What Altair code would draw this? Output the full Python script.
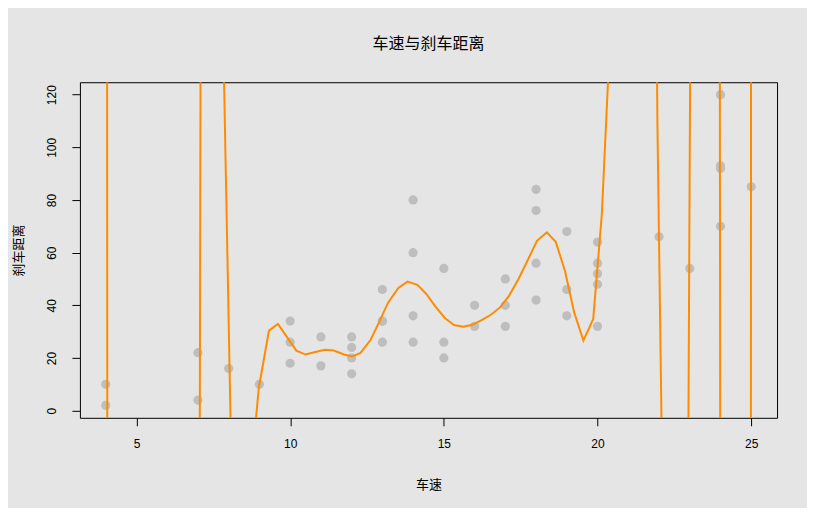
import altair as alt
import pandas as pd

# cars data (speed vs. stopping distance)
speed = [4, 4, 7, 7, 8, 9, 10, 10, 10, 11, 11, 12, 12, 12, 12, 13, 13, 13, 13, 14,
         14, 14, 14, 15, 15, 15, 16, 16, 17, 17, 17, 18, 18, 18, 18, 19, 19, 19, 20, 20,
         20, 20, 20, 22, 23, 24, 24, 24, 24, 25]
dist = [2, 10, 4, 22, 16, 10, 18, 26, 34, 17, 28, 14, 20, 24, 28, 26, 34, 34, 46, 26,
        36, 60, 80, 20, 26, 54, 32, 40, 32, 40, 50, 42, 56, 76, 84, 36, 46, 68, 32, 48,
        52, 56, 64, 66, 54, 70, 92, 93, 120, 85]

# fitted curve (values far outside the plot are clipped)
curve_speed = [3.86, 4.16, 4.46, 4.76, 5.07, 5.37, 5.67, 5.97, 6.27, 6.57,
               6.87, 7.17, 7.47, 7.77, 8.08, 8.38, 8.68, 8.98, 9.31, 9.60,
               9.90, 10.20, 10.50, 10.82, 11.13, 11.42, 11.75, 12.02, 12.29, 12.62,
               12.89, 13.19, 13.52, 13.82, 14.14, 14.43, 14.71, 15.03, 15.33, 15.63,
               15.93, 16.23, 16.53, 16.83, 17.12, 17.43, 17.72, 18.03, 18.35, 18.64,
               18.94, 19.24, 19.54, 19.86, 20.14, 20.44, 20.74, 21.04, 21.34, 21.65,
               21.95, 22.25, 22.55, 22.85, 23.15, 23.45, 23.75, 24.05, 24.35, 24.66,
               24.96, 25.26]
curve_dist = [5066, -2934, -5000, -6000, -6000, -5000, -4000, -3000, -2000, -1200,
              -1061, 601, 500, 173.6, -15, -45, -29, 8.6, 30.4, 32.9,
              27.9, 22.8, 21.3, 22.3, 23.1, 22.8, 21.3, 20.6, 21.9, 26.9,
              33.5, 41.1, 46.6, 49.0, 47.8, 44.3, 39.8, 35.2, 32.5, 31.9,
              32.6, 34.4, 36.4, 39.2, 43.6, 50.0, 56.9, 64.5, 67.7, 64.1,
              53.1, 37.3, 26.6, 34.8, 74.6, 149.6, 350, 600, 650, 500,
              107.7, -147, -500, -257, 449, 1500, 3055, -767, -3000, -2000,
              -903, 8225]

pts = pd.DataFrame({"speed": speed, "dist": dist})
crv = pd.DataFrame({"speed": curve_speed, "dist": curve_dist})

xscale = alt.Scale(domain=[3.16, 25.84], nice=False, zero=False)
yscale = alt.Scale(domain=[-2.72, 124.72], nice=False, zero=False)

xaxis = alt.Axis(values=[5, 10, 15, 20, 25], title="车速", labelPadding=13,
                 titleY=67, titleBaseline="middle")
yaxis = alt.Axis(values=[0, 20, 40, 60, 80, 100, 120], title="刹车距离",
                 labelAngle=270, labelAlign="center", labelBaseline="bottom",
                 labelPadding=13, titleAngle=270, titleX=-61, titleY=168,
                 titleAlign="center", titleBaseline="middle")

points = alt.Chart(pts).mark_circle(size=85, color="#BEBEBE", opacity=1).encode(
    x=alt.X("speed:Q", scale=xscale, axis=xaxis),
    y=alt.Y("dist:Q", scale=yscale, axis=yaxis),
)

line = alt.Chart(crv).mark_line(color="#FF8C00", strokeWidth=2, clip=True).encode(
    x=alt.X("speed:Q", scale=xscale),
    y=alt.Y("dist:Q", scale=yscale),
    order=alt.Order("speed:Q"),
)

chart = alt.layer(points, line).properties(
    width=698,
    height=336,
    background="#E5E5E5",
    padding={"left": 72, "top": 74, "right": 30, "bottom": 90},
    autosize=alt.AutoSizeParams(type="none"),
    title=alt.TitleParams("车速与刹车距离", font="Noto Sans CJK SC", fontSize=16,
                          fontWeight="normal", color="black", offset=30,
                          anchor="middle"),
).configure_view(
    stroke="black", strokeWidth=1, fill="#E5E5E5"
).configure_axis(
    grid=False, domain=False, tickColor="black", tickSize=8, tickWidth=1,
    labelFont="Liberation Sans", labelFontSize=12, labelColor="black",
    titleFont="Noto Sans CJK SC", titleFontSize=13, titleFontWeight="normal",
    titleColor="black",
)

chart.save("out.html", embed_options={"renderer": "svg", "actions": False})
